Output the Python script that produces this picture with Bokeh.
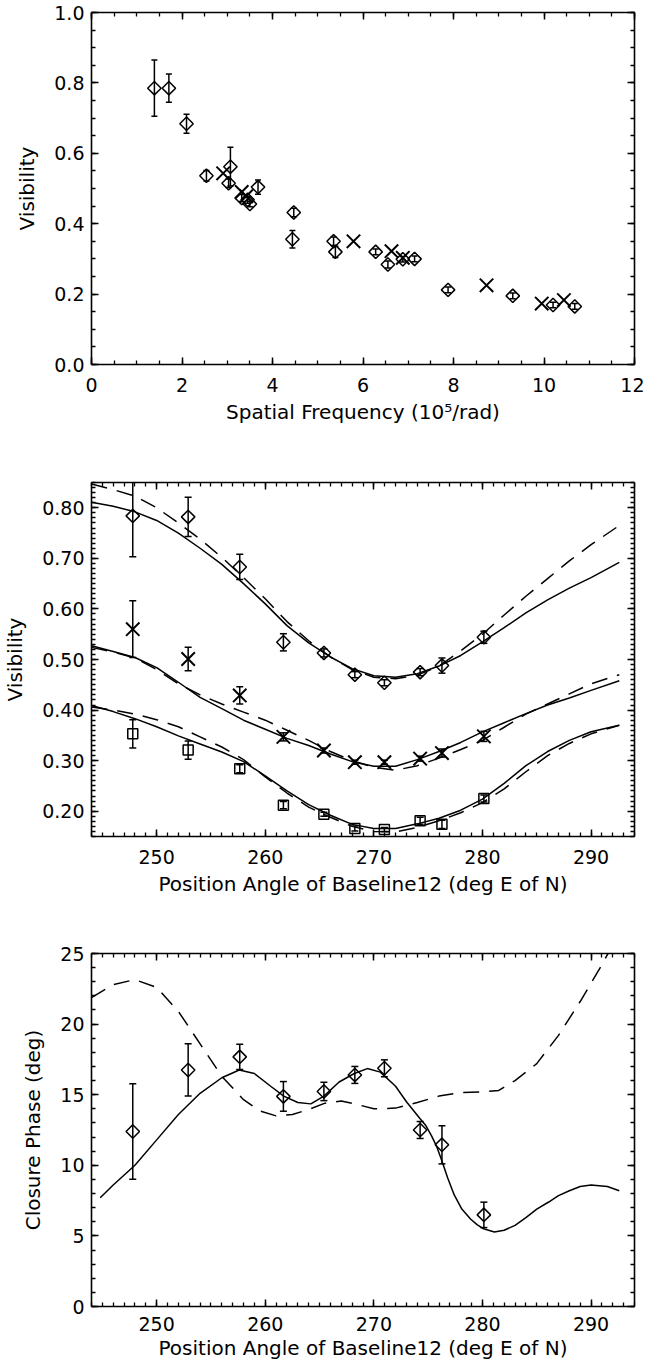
import numpy as np
from bokeh.plotting import figure
from bokeh.layouts import column
from bokeh.models import (ColumnDataSource, Whisker, TeeHead, LinearAxis, FixedTicker,
                          PrintfTickFormatter, Range1d)
from bokeh.embed import file_html
from bokeh.resources import INLINE

FONT = "DejaVu Sans"

# ---------------- Panel 1 : visibility vs spatial frequency ----------------
sf_diamond_x = [1.39, 1.71, 2.10, 2.54, 3.07, 3.03, 3.32, 3.45, 3.50, 3.68, 4.47, 4.44,
                5.35, 5.39, 6.28, 6.55, 6.88, 7.14, 7.88, 9.31, 10.20, 10.68]
sf_diamond_y = [0.785, 0.785, 0.684, 0.536, 0.562, 0.515, 0.473, 0.468, 0.456, 0.504, 0.432, 0.356,
                0.350, 0.320, 0.320, 0.284, 0.299, 0.300, 0.212, 0.195, 0.169, 0.165]
sf_diamond_err = [0.080, 0.040, 0.027, 0.015, 0.055, 0.012, 0.010, 0.010, 0.008, 0.020, 0.012, 0.025,
                  0.012, 0.016, 0.008, 0.010, 0.008, 0.008, 0.008, 0.008, 0.008, 0.008]
sf_cross_x = [2.91, 3.32, 3.42, 5.79, 6.63, 6.88, 8.73, 9.95, 10.44]
sf_cross_y = [0.543, 0.490, 0.478, 0.350, 0.322, 0.303, 0.225, 0.173, 0.183]

# ---------------- Panel 2 : visibility vs position angle ----------------
pa = [247.8, 252.9, 257.65, 261.67, 265.4, 268.25, 270.97, 274.26, 276.27, 280.13]
vis_a = [0.784, 0.782, 0.683, 0.534, 0.513, 0.470, 0.454, 0.475, 0.488, 0.544]
vis_a_err = [0.081, 0.039, 0.025, 0.017, 0.008, 0.006, 0.006, 0.007, 0.015, 0.012]
vis_b = [0.560, 0.501, 0.429, 0.347, 0.320, 0.297, 0.297, 0.304, 0.315, 0.348]
vis_b_err = [0.056, 0.023, 0.017, 0.008, 0.005, 0.004, 0.004, 0.005, 0.008, 0.010]
vis_c = [0.353, 0.321, 0.284, 0.212, 0.194, 0.166, 0.164, 0.181, 0.174, 0.225]
vis_c_err = [0.028, 0.018, 0.008, 0.007, 0.004, 0.005, 0.004, 0.007, 0.008, 0.007]

model_pa = [244, 246, 248, 250, 252, 254, 256, 258, 260, 262, 264, 266, 268, 270, 272,
            274, 276, 278, 280, 282, 284, 286, 288, 290, 292.6]
model_a_solid = [0.811, 0.803, 0.792, 0.775, 0.750, 0.720, 0.688, 0.650, 0.610, 0.567, 0.533, 0.505,
                 0.482, 0.468, 0.465, 0.472, 0.487, 0.508, 0.535, 0.563, 0.592, 0.618, 0.641, 0.662, 0.692]
model_a_dash = [0.847, 0.836, 0.823, 0.800, 0.770, 0.738, 0.702, 0.662, 0.620, 0.575, 0.537, 0.505,
                0.480, 0.465, 0.462, 0.469, 0.487, 0.517, 0.550, 0.588, 0.625, 0.660, 0.695, 0.727, 0.765]
model_b_solid = [0.527, 0.516, 0.504, 0.484, 0.455, 0.425, 0.403, 0.380, 0.362, 0.344, 0.330, 0.313,
                 0.298, 0.289, 0.289, 0.302, 0.318, 0.336, 0.357, 0.375, 0.393, 0.410, 0.424, 0.439, 0.458]
model_b_dash = [0.524, 0.515, 0.503, 0.480, 0.452, 0.430, 0.412, 0.396, 0.380, 0.360, 0.340, 0.318,
                0.300, 0.287, 0.281, 0.290, 0.305, 0.322, 0.340, 0.366, 0.392, 0.412, 0.432, 0.452, 0.470]
model_c_solid = [0.409, 0.397, 0.383, 0.367, 0.349, 0.333, 0.317, 0.298, 0.270, 0.240, 0.213, 0.192,
                 0.174, 0.166, 0.166, 0.175, 0.186, 0.202, 0.224, 0.255, 0.290, 0.318, 0.340, 0.357, 0.370]
model_c_dash = [0.406, 0.400, 0.392, 0.381, 0.367, 0.347, 0.327, 0.302, 0.268, 0.236, 0.208, 0.188,
                0.170, 0.160, 0.159, 0.168, 0.181, 0.197, 0.217, 0.244, 0.278, 0.310, 0.334, 0.353, 0.370]

# ---------------- Panel 3 : closure phase ----------------
cp = [12.39, 16.75, 17.68, 14.88, 15.23, 16.40, 16.87, 12.50, 11.45, 6.49]
cp_err = [3.38, 1.85, 0.90, 1.05, 0.65, 0.60, 0.60, 0.60, 1.35, 0.90]

cp_solid_pa = [244.8, 246, 248, 250, 252, 254, 256, 257.6, 259, 260.5, 261.7, 263, 264.2, 265.4,
               266.8, 268.2, 269.4, 270.6, 272, 273, 274.26, 274.8, 275.3, 275.8, 276.27, 276.8,
               277.4, 278.1, 278.9, 279.5, 280.1, 281.1, 282, 283, 284, 285, 286.1, 287, 288,
               289, 290, 291.5, 292.6]
cp_solid = [7.7, 8.6, 10.0, 11.8, 13.6, 15.1, 16.2, 16.75, 16.5, 15.6, 14.9, 14.45, 14.35, 14.9,
            15.9, 16.5, 16.85, 16.6, 15.6, 14.5, 13.3, 12.8, 12.1, 11.3, 10.3, 9.1,
            7.9, 6.9, 6.2, 5.8, 5.5, 5.28, 5.4, 5.75, 6.3, 6.9, 7.4, 7.85, 8.2,
            8.5, 8.6, 8.5, 8.2]
cp_dash_pa = [244, 246, 248, 250, 252, 254, 256, 258, 259.5, 261, 262.5, 264, 265.5, 267, 268.5,
              270, 272, 274, 276, 278, 280, 281.5, 283, 285, 287, 289, 291, 291.7]
cp_dash = [21.87, 22.8, 23.15, 22.6, 20.9, 18.6, 16.3, 14.65, 13.85, 13.5, 13.6, 13.95, 14.4, 14.55, 14.3,
           14.0, 14.05, 14.45, 14.9, 15.15, 15.2, 15.3, 16.0, 17.2, 19.2, 21.6, 24.2, 25.2]

sf_ticks = [0, 2, 4, 6, 8, 10, 12]
vis1_ticks = [0.0, 0.2, 0.4, 0.6, 0.8, 1.0]
pa_ticks = [250, 260, 270, 280, 290]
vis2_ticks = [0.2, 0.3, 0.4, 0.5, 0.6, 0.7, 0.8]
cp_ticks = [0, 5, 10, 15, 20, 25]

DASH = "16 10"


def style_axis(ax, major, minor, fmt, label_standoff=7, axis_standoff=12, show=True):
    ax.ticker = FixedTicker(ticks=major, minor_ticks=minor)
    ax.formatter = PrintfTickFormatter(format=fmt)
    ax.axis_line_width = 1.6
    ax.axis_line_color = "black"
    ax.major_tick_line_width = 1.5
    ax.minor_tick_line_width = 1.3
    ax.major_tick_line_color = "black"
    ax.minor_tick_line_color = "black"
    ax.major_tick_in = 7
    ax.major_tick_out = 0
    ax.minor_tick_in = 4
    ax.minor_tick_out = 0
    ax.major_label_text_font = FONT
    ax.major_label_text_color = "black"
    ax.axis_label_text_font = FONT
    ax.axis_label_text_font_style = "normal"
    ax.axis_label_text_color = "black"
    ax.axis_label_text_font_size = "20px"
    if show:
        ax.major_label_text_font_size = "19px"
        ax.major_label_standoff = label_standoff
        ax.axis_label_standoff = axis_standoff
    else:
        ax.major_label_text_font_size = "0px"
        ax.major_label_standoff = 0
        ax.axis_label = None


def make_fig(height, top, bottom, xr, yr, xmajor, xminor, xfmt, ymajor, yminor, yfmt,
             xlabel, ylabel, xls=13, xas=5):
    p = figure(width=644, height=height, x_range=Range1d(*xr), y_range=Range1d(*yr),
               output_backend="svg", toolbar_location=None,
               min_border_left=86, min_border_right=10, min_border_top=top, min_border_bottom=bottom,
               x_axis_label=xlabel, y_axis_label=ylabel)
    p.xgrid.grid_line_color = None
    p.ygrid.grid_line_color = None
    p.outline_line_color = None
    p.background_fill_color = "white"
    p.border_fill_color = "white"
    style_axis(p.xaxis[0], xmajor, xminor, xfmt, label_standoff=xls, axis_standoff=xas)
    style_axis(p.yaxis[0], ymajor, yminor, yfmt, label_standoff=7, axis_standoff=12)
    ax_top = LinearAxis()
    style_axis(ax_top, xmajor, xminor, xfmt, show=False)
    p.add_layout(ax_top, "above")
    ax_right = LinearAxis()
    style_axis(ax_right, ymajor, yminor, yfmt, show=False)
    p.add_layout(ax_right, "right")
    return p


def whiskers(p, x, y, err, head=7):
    src = ColumnDataSource(dict(x=x, lo=[a - b for a, b in zip(y, err)], hi=[a + b for a, b in zip(y, err)]))
    w = Whisker(source=src, base="x", upper="hi", lower="lo", dimension="height",
                line_color="black", line_width=1.5,
                upper_head=TeeHead(size=head, line_color="black", line_width=1.5),
                lower_head=TeeHead(size=head, line_color="black", line_width=1.5))
    p.add_layout(w)


def diamonds(p, x, y, size=9.5):
    p.scatter(x, y, marker="square", angle=np.pi / 4, size=size, fill_color=None,
              line_color="black", line_width=1.5)


# ---- Figure 1
p1 = make_fig(440, 12, 76, (0, 12), (0, 1.0), sf_ticks, list(np.arange(0, 12.01, 0.5)), "%d",
              vis1_ticks, list(np.round(np.arange(0, 1.001, 0.05), 3)), "%.1f",
              "Spatial Frequency (10\u2075/rad)", "Visibility")
whiskers(p1, sf_diamond_x, sf_diamond_y, sf_diamond_err, head=6)
diamonds(p1, sf_diamond_x, sf_diamond_y)
p1.scatter(sf_cross_x, sf_cross_y, marker="x", size=19, line_color="black", line_width=2)

# ---- Figure 2
p2 = make_fig(472, 42, 76, (244, 294), (0.15, 0.85), pa_ticks, list(range(244, 295)), "%d",
              vis2_ticks, list(np.round(np.arange(0.15, 0.8501, 0.01), 3)), "%.2f",
              "Position Angle of Baseline12 (deg E of N)", "Visibility")
for ys in (model_a_solid, model_b_solid, model_c_solid):
    p2.line(model_pa, ys, line_color="black", line_width=1.5)
for ys in (model_a_dash, model_b_dash, model_c_dash):
    p2.line(model_pa, ys, line_color="black", line_width=1.5, line_dash=DASH)
whiskers(p2, pa, vis_a, vis_a_err)
whiskers(p2, pa, vis_b, vis_b_err)
whiskers(p2, pa, vis_c, vis_c_err)
diamonds(p2, pa, vis_a)
p2.scatter(pa, vis_b, marker="x", size=19, line_color="black", line_width=2)
p2.scatter(pa, vis_c, marker="square", size=10, fill_color=None, line_color="black", line_width=1.5)

# ---- Figure 3
p3 = make_fig(450, 41, 54, (244, 294), (0, 25), pa_ticks, list(range(244, 295)), "%d",
              cp_ticks, list(range(0, 26)), "%d",
              "Position Angle of Baseline12 (deg E of N)", "Closure Phase (deg)", xls=10, xas=2)
p3.line(cp_solid_pa, cp_solid, line_color="black", line_width=1.5)
p3.line(cp_dash_pa, cp_dash, line_color="black", line_width=1.5, line_dash=DASH)
whiskers(p3, pa, cp, cp_err)
diamonds(p3, pa, cp)

layout = column(p1, p2, p3, spacing=0)
open("out.html", "w").write(file_html(layout, INLINE))
